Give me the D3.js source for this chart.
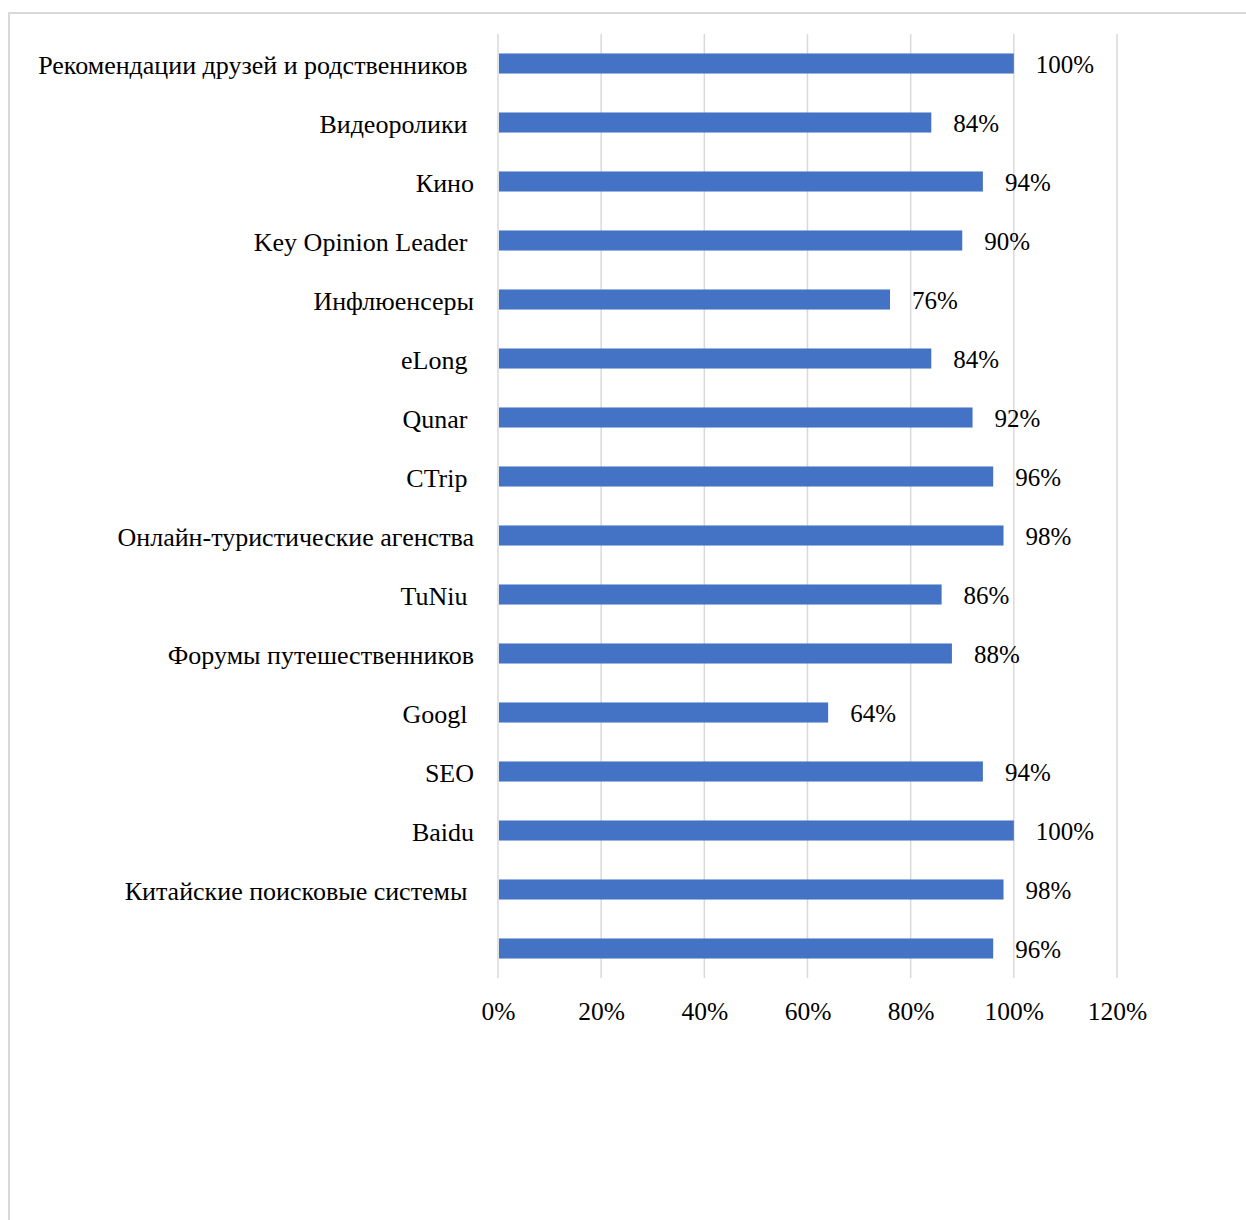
<!DOCTYPE html>
<html lang="ru">
<head>
  <meta charset="UTF-8">
  <title>Каналы</title>
  <script src="https://d3js.org/d3.v7.min.js"></script>
</head>
<body style="margin: 0; overflow: hidden; background: #fff;">

<script>
  //Categories top to bottom (trailing spaces kept as in the source labels)
  const categories = [
    'Рекомендации друзей и родственников ',
    'Видеоролики ',
    'Кино',
    'Key Opinion Leader ',
    'Инфлюенсеры',
    'eLong ',
    'Qunar ',
    'CTrip ',
    'Онлайн-туристические агенства',
    'TuNiu ',
    'Форумы путешественников',
    'Googl ',
    'SEO',
    'Baidu',
    'Китайские поисковые системы ',
    ''
  ];

  //Share for each category
  const values = [1.00, 0.84, 0.94, 0.90, 0.76, 0.84, 0.92, 0.96, 0.98, 0.86, 0.88, 0.64, 0.94, 1.00, 0.98, 0.96];

  //X axis ticks
  const xTicks = [0, 0.2, 0.4, 0.6, 0.8, 1.0, 1.2];

  const width = 1246, height = 1220;
  const font = '"Liberation Serif", "Times New Roman", serif';

  const svg = d3.select('body').append('svg')
    .attr('width', width)
    .attr('height', height);

  //Chart frame
  svg.append('path')
    .attr('d', `M9,${height} V13 H${width}`)
    .attr('fill', 'none')
    .attr('stroke', '#d9d9d9')
    .attr('stroke-width', 2);

  const x = d3.scaleLinear().domain([0, 1.2]).range([498, 1117]);
  const y = d3.scaleBand()
    .domain(d3.range(categories.length))
    .range([34, 978])
    .paddingInner(0.66)
    .paddingOuter(0.33);

  //Vertical gridlines
  svg.append('g')
    .selectAll('line')
    .data(xTicks)
    .join('line')
    .attr('x1', d => x(d))
    .attr('x2', d => x(d))
    .attr('y1', 34)
    .attr('y2', 978)
    .attr('stroke', '#d9d9d9')
    .attr('stroke-width', 1.5);

  //Bars
  svg.append('g')
    .selectAll('rect')
    .data(values)
    .join('rect')
    .attr('x', x(0) + 1)
    .attr('y', (d, i) => y(i))
    .attr('width', d => x(d) - x(0) - 1)
    .attr('height', y.bandwidth())
    .attr('fill', '#4472c4');

  //Value labels
  svg.append('g')
    .selectAll('text')
    .data(values)
    .join('text')
    .attr('x', d => x(d) + 22)
    .attr('y', (d, i) => y(i) + y.bandwidth() / 2 + 1)
    .attr('dy', '0.35em')
    .attr('font-size', 25)
    .style('font-family', font)
    .attr('fill', '#000')
    .text(d => d3.format('.0%')(d));

  //Category labels
  svg.append('g')
    .selectAll('text')
    .data(categories)
    .join('text')
    .attr('x', 474)
    .attr('y', (d, i) => y(i) + y.bandwidth() / 2 + 1)
    .attr('dy', '0.35em')
    .attr('text-anchor', 'end')
    .attr('font-size', 26)
    .style('font-family', font)
    .style('white-space', 'pre')
    .attr('fill', '#000')
    .text(d => d);

  //X axis labels
  const xAxis = d3.axisBottom(x)
    .tickValues(xTicks)
    .tickFormat(d3.format('.0%'))
    .tickSize(0)
    .tickPadding(0);

  const axisG = svg.append('g')
    .attr('transform', 'translate(0,1002)')
    .call(xAxis);
  axisG.select('.domain').remove();
  axisG.selectAll('text')
    .attr('font-size', 25.5)
    .style('font-family', font)
    .attr('fill', '#000');
</script>

</body>
</html>
